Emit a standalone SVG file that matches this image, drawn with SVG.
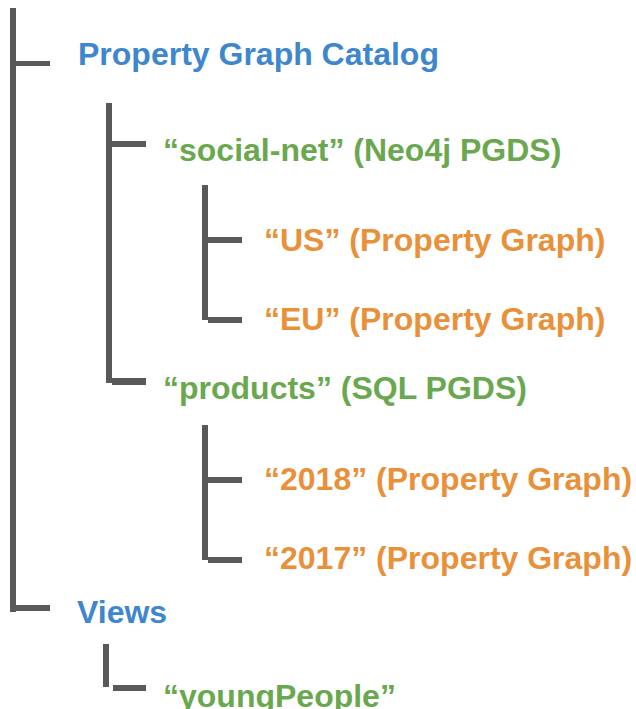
<svg xmlns="http://www.w3.org/2000/svg" width="636" height="709" viewBox="0 0 636 709">
  <style>
    .bar { fill: #595959; }
    text { font-family: "Liberation Sans", Arial, sans-serif; font-weight: bold; font-size: 32px; }
    .root { fill: #3f87cc; }
    .src { fill: #6aa84f; }
    .graph { fill: #e8913a; }
  </style>
  <rect width="636" height="709" fill="#ffffff"/>

  <!-- tree connectors -->
  <g id="connectors">
    <rect class="bar" x="10" y="8" width="6" height="604"/>
    <rect class="bar" x="16" y="61" width="34" height="5"/>
    <rect class="bar" x="16" y="605" width="34" height="6"/>

    <rect class="bar" x="106" y="103" width="6" height="280"/>
    <rect class="bar" x="112" y="141" width="34" height="6"/>
    <rect class="bar" x="112" y="378" width="34" height="7"/>

    <rect class="bar" x="202" y="185" width="6" height="135"/>
    <rect class="bar" x="208" y="237" width="34" height="6"/>
    <rect class="bar" x="208" y="317" width="34" height="6"/>

    <rect class="bar" x="202" y="425" width="6" height="135"/>
    <rect class="bar" x="208" y="477" width="34" height="6"/>
    <rect class="bar" x="208" y="557" width="34" height="6"/>

    <rect class="bar" x="103" y="644" width="6" height="43"/>
    <rect class="bar" x="113" y="685" width="33" height="6"/>
  </g>

  <g id="catalog"><text class="root" x="78" y="65">Property Graph Catalog</text></g>
  <g id="social-net"><text class="src" x="163" y="161">“social-net” (Neo4j PGDS)</text></g>
  <g id="us"><text class="graph" x="264" y="251">“US” (Property Graph)</text></g>
  <g id="eu"><text class="graph" x="264" y="330">“EU” (Property Graph)</text></g>
  <g id="products"><text class="src" x="163" y="399">“products” (SQL PGDS)</text></g>
  <g id="g2018"><text class="graph" x="264" y="490">“2018” (Property Graph)</text></g>
  <g id="g2017"><text class="graph" x="264" y="569">“2017” (Property Graph)</text></g>
  <g id="views"><text class="root" x="77" y="623">Views</text></g>
  <g id="youngPeople"><text class="src" x="163" y="707">“youngPeople”</text></g>
</svg>
